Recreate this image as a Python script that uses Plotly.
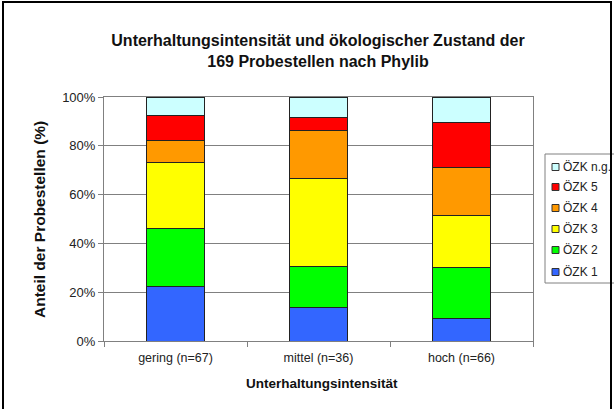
import plotly.graph_objects as go

categories = ["gering (n=67)", "mittel (n=36)", "hoch (n=66)"]
series_names = ["ÖZK 1", "ÖZK 2", "ÖZK 3", "ÖZK 4", "ÖZK 5", "ÖZK n.g."]
# number of sampling sites per class (gering, mittel, hoch)
oezk1 = [15, 5, 6]
oezk2 = [16, 6, 14]
oezk3 = [18, 13, 14]
oezk4 = [6, 7, 13]
oezk5 = [7, 2, 12]
oezk_ng = [5, 3, 7]
series_values = [oezk1, oezk2, oezk3, oezk4, oezk5, oezk_ng]
colors = ["#3366FF", "#00FF00", "#FFFF00", "#FF9900", "#FF0000", "#CCFFFF"]

FONT = "Liberation Sans, Arial, sans-serif"

fig = go.Figure()
for name, vals, col in zip(series_names, series_values, colors):
    fig.add_trace(go.Bar(
        x=categories, y=vals, name=name, showlegend=False,
        marker=dict(color=col, line=dict(color="#222222", width=1)),
    ))

W, H = 614, 409
L, R, T, B = 104, 81, 97, 68
pw, ph = W - L - R, H - T - B

def px(x):
    return (x - L) / pw

def py(y):
    return (H - B - y) / ph

fig.update_layout(
    width=W, height=H,
    margin=dict(l=L, r=R, t=T, b=B, autoexpand=False),
    paper_bgcolor="white", plot_bgcolor="white",
    barmode="stack", barnorm="percent", bargap=0.6,
    font=dict(family=FONT, size=12, color="#222222"),
    title=dict(
        text="<b>Unterhaltungsintensität und ökologischer Zustand der<br>169 Probestellen nach Phylib</b>",
        x=318 / W, xanchor="center", y=1 - 46 / H, yanchor="middle",
        font=dict(family=FONT, size=16, color="#111111"),
    ),
    xaxis=dict(
        showgrid=False, showline=True, linecolor="#808080", mirror=True,
        ticks="outside", tickson="boundaries", ticklen=5, tickcolor="#808080",
        tickfont=dict(size=12.5, color="#222222"), automargin=False,
        ticklabelstandoff=5,
    ),
    yaxis=dict(
        range=[0, 100], dtick=20, ticksuffix="%",
        showgrid=True, gridcolor="#808080", gridwidth=1,
        showline=True, linecolor="#808080", mirror=True,
        ticks="outside", ticklen=5, tickcolor="#808080",
        tickfont=dict(size=13, color="#222222"),
        zeroline=False, automargin=False,
    ),
    showlegend=False,
)

fig.add_annotation(
    text="<b>Anteil der Probestellen (%)</b>", textangle=-90,
    xref="paper", yref="paper", x=px(39), y=py(220),
    xanchor="center", yanchor="middle", showarrow=False,
    font=dict(family=FONT, size=15.5, color="#111111"),
)
fig.add_annotation(
    text="<b>Unterhaltungsintensität</b>",
    xref="paper", yref="paper", x=px(322), y=py(383),
    xanchor="center", yanchor="middle", showarrow=False,
    font=dict(family=FONT, size=13.5, color="#111111"),
)

# legend box (drawn manually, entries listed top to bottom in reverse series order)
fig.add_shape(type="rect", xref="paper", yref="paper",
              x0=px(545), x1=px(640), y0=py(283), y1=py(154),
              line=dict(color="#808080", width=1), fillcolor="white", layer="above")
legend_rows = [167, 187, 208, 229, 250, 272]
for row_y, name, col in zip(legend_rows, series_names[::-1], colors[::-1]):
    fig.add_shape(type="rect", xref="paper", yref="paper",
                  x0=px(552), x1=px(559), y0=py(row_y + 3.5), y1=py(row_y - 3.5),
                  line=dict(color="#333333", width=1), fillcolor=col, layer="above")
    fig.add_annotation(text=name, xref="paper", yref="paper",
                       x=px(561), y=py(row_y), xanchor="left", yanchor="middle",
                       showarrow=False, font=dict(family=FONT, size=12, color="#222222"))

# outer chart frame
fig.add_shape(type="rect", xref="paper", yref="paper",
              x0=px(3), x1=px(611), y0=py(440), y1=py(2),
              line=dict(color="black", width=2), fillcolor="rgba(0,0,0,0)", layer="above")

fig.write_html("out.html", config={"displayModeBar": False},
               post_script="document.body.style.margin='0px';")
